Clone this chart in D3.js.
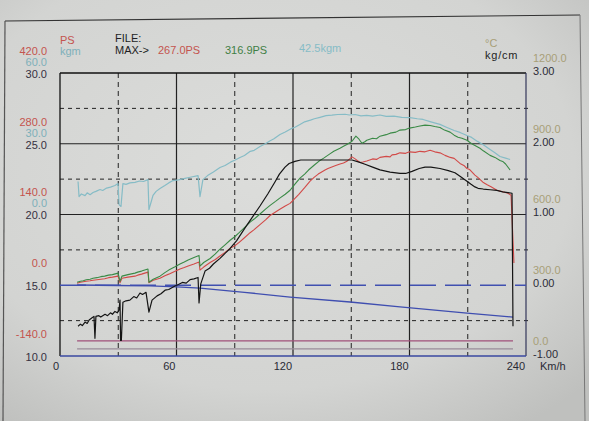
<!DOCTYPE html>
<html><head><meta charset="utf-8">
<script src="https://cdn.jsdelivr.net/npm/d3@7"></script>
<style>
body{margin:0;background:#d2d3d1}
svg{display:block}
text{font-family:"Liberation Sans",Arial,sans-serif;font-size:11px}
</style>
</head><body>
<svg id="c" width="589" height="421"></svg>
<script>
// ---------- data ----------
const speedTicks = [0, 60, 120, 180, 240];
const psTicks = [420, 280, 140, 0, -140];
const kgmTicks = [60, 30, 0];
const leftTicks = [30, 25, 20, 15, 10];
const tempTicks = [1200, 900, 600, 300, 0];
const boostTicks = [3, 2, 1, 0, -1];
const maxLabels = ["267.0PS", "316.9PS", "42.5kgm"];

// [km/h, PS]
const psRed = [[8.8,4],[10.5,6],[12,7],[13.5,8],[15.5,9],[17,10],[19,11],[21,12],[23,13],[25,15],[27,16],[29.9,18],[30.9,5],[31.9,14],[35,16],[38.6,18],[40,20],[42,22],[45.3,26],[45.8,5],[48,10],[51.5,14],[54,19],[56,22],[59,27],[61.8,32],[64,35],[66,38],[69,42],[71.6,46],[72.1,30],[74,36],[77.3,45],[80,51],[82,57],[85,65],[87.6,73],[90,78],[92,84],[95,94],[97.9,104],[100,110],[103,120],[106,130],[108.2,138],[111,145],[113,150],[116,157],[118.5,162],[121,172],[123,180],[126,193],[128.8,206],[131,214],[133,220],[136.5,228],[138,231],[140,234],[142,237],[144.2,240],[146,242],[148,246],[150.4,254],[152,250],[154.5,243],[156,244],[158,246],[161,250],[163,249],[164.8,253],[168,255],[170,254],[171,258],[173,259],[175.1,262],[178,261],[180,264],[183,263],[185.4,265],[188,264],[190.6,267],[193,264],[195.7,262],[198.3,257],[201,253],[203,251],[206,241],[208,237],[209.6,231],[211,229],[213.7,218],[215,214],[217.8,204],[220,199],[222,195],[225,188],[228,185],[230.7,182],[232.3,178],[233.8,44]];

const psGreen = [[8.8,6],[10.5,8],[12,9],[13.5,11],[15.5,12],[17,14],[19,15],[21,17],[23,18],[25,20],[27,21],[29.9,24],[30.9,8],[31.9,18],[35,21],[38.6,24],[40,26],[42,28],[45.3,32],[45.8,6],[48,12],[51.5,18],[54,25],[56,30],[59,36],[61.8,42],[64,46],[66,50],[69,55],[71.6,59],[72.1,38],[74,45],[77.3,53],[80,62],[82,70],[85,80],[87.6,89],[90,96],[92,103],[95,114],[97.9,125],[100,131],[103,141],[106,151],[108.2,158],[111,166],[113,172],[116,180],[118.5,188],[121,200],[123.6,212],[126,220],[128,228],[131,238],[133.9,247],[136,252],[139,260],[141,265],[144.2,271],[146,275],[148,279],[150.4,285],[152.4,295],[154,289],[155.5,281],[157,284],[158,287],[161,291],[163,290],[164.8,295],[168,298],[170,301],[173,303],[175.1,307],[178,308],[180,311],[183,313],[185.4,315],[188,316.9],[190.6,316],[193,314],[195.7,312],[198,307],[200.9,303],[203,297],[205,293],[207,291],[209.6,287],[212,280],[213,278],[216.3,271],[218,266],[221.5,257],[224,253],[226.6,247],[228,245],[229.5,240],[231.8,228]];

// [km/h, kgm]
const kgmTeal = [[9.3,14.0],[9.8,7.6],[11,8.7],[12.9,8.0],[14,9.2],[15.5,8.4],[17,9.3],[18.5,9.8],[20.6,10.6],[22,10.2],[24,11.2],[26,11.6],[28.3,12.3],[29.9,13.1],[30.4,4.2],[31.4,3.4],[32.4,13.1],[34,12.8],[36,13.4],[38.6,13.6],[41,14.2],[43,14.0],[45.3,14.8],[45.8,2.1],[47,5.5],[47.9,8.1],[49.5,9.8],[51.5,11.0],[54,12.3],[56,13.4],[58.2,14.4],[61,14.7],[64.4,15.3],[67,15.8],[71.1,16.5],[72.1,7.6],[73.6,14.8],[76,16.5],[79,18.0],[82.4,19.9],[85,20.8],[88,22.3],[90,23.0],[92.7,24.2],[95,25.0],[98,26.8],[100,27.2],[103,28.8],[106,30.1],[108,31.2],[110,32.0],[113.3,33.9],[116,35.0],[119,36.4],[121,37.0],[123.6,38.2],[126,39.3],[129,40.0],[131,40.6],[133.9,41.2],[137,41.9],[140,42.1],[143,42.4],[146.8,42.5],[149,42.2],[152,42.4],[155,41.8],[158,42.0],[161,41.7],[164.8,42.2],[168,41.6],[172,41.7],[176,41.2],[180.3,41.1],[184,40.6],[187,40.3],[191,39.3],[195.7,38.2],[199,37.0],[203,35.6],[206,34.8],[209.6,33.5],[212,32.7],[215,31.0],[218,29.6],[221.5,27.6],[224,26.2],[226.6,24.6],[229.5,23.9],[231.8,23.3]];

// [km/h, kg/cm2]
const boostBlack = [[9.3,-0.58],[10.5,-0.55],[11.5,-0.57],[12.9,-0.52],[14,-0.54],[15,-0.49],[16.5,-0.46],[17.5,-0.44],[18,-0.75],[18.5,-0.44],[20,-0.43],[21,-0.45],[23.2,-0.41],[24.5,-0.43],[26,-0.39],[27,-0.41],[28.3,-0.37],[29.5,-0.39],[30.4,-0.35],[30.9,-0.21],[31.2,-0.78],[31.6,-0.78],[32.4,-0.24],[34,-0.22],[36,-0.21],[38,-0.16],[39.5,-0.18],[41.2,-0.11],[42.5,-0.13],[44.3,-0.10],[45.8,-0.38],[47.4,-0.21],[50,-0.15],[52,-0.12],[54.1,-0.07],[56,-0.06],[59.2,-0.01],[61,0.01],[63,0.04],[65,0.03],[67,0.08],[69,0.09],[71.1,0.11],[71.6,-0.25],[72.5,0.02],[74.7,0.20],[77,0.24],[79,0.30],[82.4,0.38],[85,0.45],[87.6,0.52],[91,0.63],[95.3,0.81],[99,0.96],[103,1.12],[107,1.29],[110.7,1.46],[113,1.57],[115.9,1.67],[118,1.72],[121,1.75],[124,1.77],[128.8,1.77],[140,1.77],[150.4,1.77],[154,1.74],[157.1,1.71],[161,1.67],[164.8,1.63],[170,1.60],[175.1,1.58],[178,1.58],[181.3,1.61],[185,1.65],[188,1.67],[191,1.67],[195.7,1.65],[200,1.62],[203.4,1.59],[206,1.54],[209.6,1.47],[211.5,1.43],[213.7,1.39],[215.3,1.37],[218,1.36],[221.5,1.35],[225,1.34],[228,1.32],[230.7,1.31],[232.8,1.30],[233.3,-0.58]];

// [km/h, degC]
const tempBlue = [[8.8,301],[30,299],[46.3,297],[60,293],[72.1,288],[95,270],[118.5,250],[149.4,229],[175.1,208],[209.6,182],[233.3,165]];
const tempPurple = [[8.8,64],[233.3,64]];
const tempGray = [[8.8,30],[233.3,30]];
const boostZero = [[0,0],[240,0]];

// ---------- layout ----------
const L = 60, R = 526, T = 73, B = 356;
const svg = d3.select("#c");

// background with slight vignette
const defs = svg.append("defs");
const rg = defs.append("radialGradient").attr("id","bg").attr("cx","45%").attr("cy","40%").attr("r","75%");
rg.append("stop").attr("offset","0%").attr("stop-color","#dcdddb");
rg.append("stop").attr("offset","70%").attr("stop-color","#d3d4d2");
rg.append("stop").attr("offset","100%").attr("stop-color","#bfc0be");
svg.append("rect").attr("width",589).attr("height",421).attr("fill","url(#bg)");

// page frame
svg.append("line").attr("x1",5).attr("y1",21).attr("x2",580).attr("y2",15).attr("stroke","#333").attr("stroke-width",1.2);
svg.append("line").attr("x1",5).attr("y1",21).attr("x2",3).attr("y2",421).attr("stroke","#555").attr("stroke-width",1.2);
svg.append("line").attr("x1",580).attr("y1",15).attr("x2",585).attr("y2",421).attr("stroke","#777").attr("stroke-width",1);

// scales
const x = d3.scaleLinear().domain([0,240]).range([L,R]);
const yLeft = d3.scaleLinear().domain([10,30]).range([B,T]);
const yPS = d3.scaleLinear().domain([-140,420]).range([B,T]);
const yKgm = d3.scaleLinear().domain([0,60]).range([yLeft(20),T]);
const yTemp = d3.scaleLinear().domain([0,1200]).range([B,T]);
const yBoost = d3.scaleLinear().domain([-1,3]).range([B,T]);

// grid: vertical
const vGrid = d3.range(0,241,30);
svg.append("g").selectAll("line").data(vGrid.filter(v=>v>0&&v<240)).join("line")
  .attr("x1",d=>x(d)).attr("x2",d=>x(d)).attr("y1",T).attr("y2",B)
  .attr("stroke","#222").attr("stroke-width",d=>d%60===0?1.2:1)
  .attr("stroke-dasharray",d=>d%60===0?null:"5,4");
// grid: horizontal
const hGrid = d3.range(10,30,2.5).filter(v=>v>10&&v!==15);
svg.append("g").selectAll("line").data(hGrid).join("line")
  .attr("x1",L).attr("x2",d=>d%5===0?R:R+4).attr("y1",d=>yLeft(d)).attr("y2",d=>yLeft(d))
  .attr("stroke","#222").attr("stroke-width",d=>d%5===0?1.2:1)
  .attr("stroke-dasharray",d=>d%5===0?null:"4,4");

// border
svg.append("line").attr("x1",L).attr("x2",R).attr("y1",T).attr("y2",T).attr("stroke","#111").attr("stroke-width",1.3);
svg.append("line").attr("x1",L).attr("x2",L).attr("y1",T).attr("y2",B).attr("stroke","#111").attr("stroke-width",1.3);
svg.append("line").attr("x1",R).attr("x2",R).attr("y1",T).attr("y2",B).attr("stroke","#33365a").attr("stroke-width",1.2);
svg.append("line").attr("x1",L).attr("x2",R).attr("y1",B).attr("y2",B).attr("stroke","#3a48a0").attr("stroke-width",1.5);

// series
function draw(data, ys, color, w, dash){
  svg.append("path").datum(data)
    .attr("d", d3.line().x(d=>x(d[0])).y(d=>ys(d[1])))
    .attr("fill","none").attr("stroke",color).attr("stroke-width",w)
    .attr("stroke-dasharray",dash||null).attr("stroke-linejoin","round");
}
draw(boostZero, yBoost, "#4050b0", 1.3, "26,9");
draw(tempPurple, yTemp, "#a0507a", 1.3);
draw(tempGray, yTemp, "#9a8c9a", 1.2);
draw(tempBlue, yTemp, "#3f4eb0", 1.3);
draw(kgmTeal, yKgm, "#86bcc6", 1.2);
draw(psRed, yPS, "#d24a48", 1.1);
draw(psGreen, yPS, "#3a8a46", 1.1);
draw(boostBlack, yBoost, "#141414", 1.2);

// left axis labels
const gl = svg.append("g");
gl.selectAll("text.ps").data(psTicks).join("text").attr("class","ps")
  .attr("x",47).attr("y",(d,i)=>yLeft(leftTicks[i])-22).attr("dy","0.35em")
  .attr("text-anchor","end").attr("fill","#c4544e").text(d=>d.toFixed(1));
gl.selectAll("text.kg").data(kgmTicks).join("text").attr("class","kg")
  .attr("x",47).attr("y",d=>yKgm(d)-11).attr("dy","0.35em")
  .attr("text-anchor","end").attr("fill","#7eb0ba").text(d=>d.toFixed(1));
gl.selectAll("text.lf").data(leftTicks).join("text").attr("class","lf")
  .attr("x",47).attr("y",d=>yLeft(d)+1).attr("dy","0.35em")
  .attr("text-anchor","end").attr("fill","#35303f").text(d=>d.toFixed(1));

// right axis labels
const gr = svg.append("g");
gr.selectAll("text.tp").data(tempTicks).join("text").attr("class","tp")
  .attr("x",533).attr("y",d=>yTemp(d)-15).attr("dy","0.35em")
  .attr("fill","#a89f78").text(d=>d.toFixed(1));
gr.selectAll("text.bs").data(boostTicks).join("text").attr("class","bs")
  .attr("x",533).attr("y",d=>yBoost(d)-2).attr("dy","0.35em")
  .attr("fill","#2c2c38").text(d=>d.toFixed(2));

// x axis labels
svg.append("g").selectAll("text").data(speedTicks).join("text")
  .attr("x",d=>x(d)-1).attr("y",370).attr("text-anchor","end")
  .attr("fill","#2a2a35").text(d=>d);
svg.append("text").attr("x",540).attr("y",370).attr("fill","#2a2a35").text("Km/h");

// header
svg.append("text").attr("x",60).attr("y",44).attr("fill","#c4544e").text("PS");
svg.append("text").attr("x",60).attr("y",55).attr("fill","#7eb0ba").text("kgm");
svg.append("text").attr("x",115).attr("y",42).attr("fill","#1e1e24").text("FILE:");
svg.append("text").attr("x",115).attr("y",54).attr("fill","#1e1e24").text("MAX->");
svg.append("text").attr("x",158).attr("y",54).attr("fill","#c4544e").text(maxLabels[0]);
svg.append("text").attr("x",225).attr("y",54).attr("fill","#3f7f45").text(maxLabels[1]);
svg.append("text").attr("x",299).attr("y",52).attr("fill","#86bcc6").text(maxLabels[2]);
svg.append("text").attr("x",485).attr("y",47).attr("fill","#a89f78").text("°C");
svg.append("text").attr("x",485).attr("y",59).attr("fill","#1e1e24").attr("letter-spacing","0.8").text("kg/cm");
</script>
</body></html>
